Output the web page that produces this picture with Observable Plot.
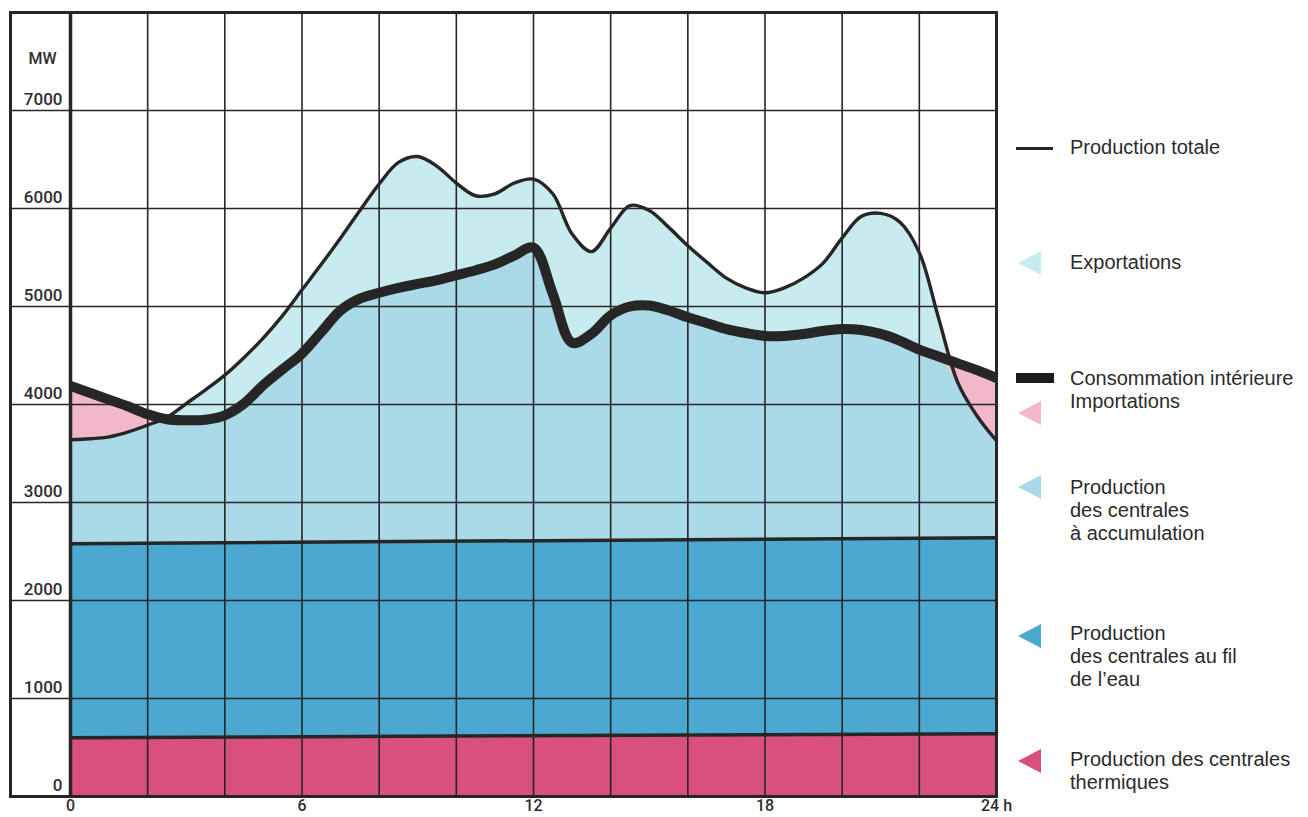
<!DOCTYPE html>
<html>
<head>
<meta charset="utf-8">
<script src="https://cdn.jsdelivr.net/npm/d3@7"></script>
<script src="https://cdn.jsdelivr.net/npm/@observablehq/plot@0.6"></script>
<style>
  html, body { margin: 0; padding: 0; background: #ffffff; }
  #wrap { position: relative; width: 1308px; height: 817px; overflow: hidden; background: #fff; }
  #chart { position: absolute; left: 0; top: 0; }
  .lg { position: absolute; font-family: "Liberation Sans", Arial, sans-serif; font-size: 20px; color: #2b2b2b; line-height: 23px; white-space: nowrap; }
  .sym { position: absolute; }
</style>
</head>
<body>
<div id="wrap"><div id="chart"></div></div>
<script>
// ---- data ----
const hours = [0,0.5,1,1.5,2,2.5,3,3.5,4,4.5,5,5.5,6,6.5,7,7.5,8,8.5,9,9.5,10,10.5,11,11.5,12,12.5,13,13.5,14,14.5,15,15.5,16,16.5,17,17.5,18,18.5,19,19.5,20,20.5,21,21.5,22,22.5,23,23.5,24];
const productionTotale = [3640,3650,3670,3720,3790,3870,4010,4150,4300,4480,4680,4910,5170,5430,5700,5980,6250,6470,6530,6430,6260,6130,6150,6260,6300,6150,5740,5560,5800,6030,5980,5810,5620,5450,5290,5190,5140,5190,5290,5440,5700,5920,5950,5860,5550,4880,4220,3880,3630];
const consommationInterieure = [4190,4120,4050,3980,3900,3850,3840,3845,3890,4010,4200,4360,4520,4740,4960,5080,5140,5190,5230,5270,5320,5370,5430,5520,5600,5130,4630,4720,4910,5000,5010,4960,4890,4830,4770,4730,4700,4700,4720,4750,4770,4760,4720,4650,4560,4490,4420,4350,4270];
const baseHours = [0, 24];
const thermiques = [600, 640];          // top of thermal production
const filDeLEau = [2580, 2640];         // top of run-of-river production
const yTicks = [0,1000,2000,3000,4000,5000,6000,7000];
const gridHours = [0,2,4,6,8,10,12,14,16,18,20,22,24];
const xTicks = [0,6,12,18,24];

const cExport = "#c8ebef", cImport = "#f3b7ca", cAccum = "#aad9e7", cRiver = "#4aa8d1", cTherm = "#d94f7e", ink = "#262626";

const rows = hours.map((h, i) => ({h, p: productionTotale[i], c: consommationInterieure[i], m: Math.min(productionTotale[i], consommationInterieure[i])}));
const base = baseHours.map((h, i) => ({h, t: thermiques[i], r: filDeLEau[i]}));
const curve = "catmull-rom";

const chart = Plot.plot({
  width: 1308, height: 817,
  marginLeft: 10, marginRight: 312, marginTop: 12, marginBottom: 21,
  x: {domain: [0, 24], range: [70, 996], ticks: xTicks, tickSize: 0, tickPadding: 3, tickFormat: d => d === 24 ? "24 h" : String(d), label: null},
  y: {domain: [0, 8000], axis: null},
  style: {fontFamily: "Roboto, 'Liberation Sans', sans-serif", fontSize: "16px", fontWeight: 500, color: "#2e2e2e", background: "transparent"},
  marks: [
    Plot.areaY(rows, {x: "h", y: "p", fill: cExport, curve}),
    Plot.areaY(rows, {x: "h", y: "c", fill: cImport, curve}),
    Plot.areaY(rows, {x: "h", y: "m", fill: cAccum, curve}),
    Plot.areaY(base, {x: "h", y: "r", fill: cRiver}),
    Plot.areaY(base, {x: "h", y: "t", fill: cTherm}),
    Plot.ruleX(gridHours, {stroke: ink, strokeWidth: 1.6}),
    Plot.ruleY(yTicks.slice(1), {stroke: ink, strokeWidth: 1.6}),
    Plot.line(base, {x: "h", y: "r", stroke: ink, strokeWidth: 3.5}),
    Plot.line(base, {x: "h", y: "t", stroke: ink, strokeWidth: 3.5}),
    Plot.line(rows, {x: "h", y: "p", stroke: ink, strokeWidth: 3.4, curve}),
    Plot.line(rows, {x: "h", y: "c", stroke: ink, strokeWidth: 10, curve, strokeLinecap: "butt"}),
    Plot.ruleX([0], {stroke: ink, strokeWidth: 3.5}),
    Plot.frame({stroke: ink, strokeWidth: 3}),
    Plot.text(yTicks, {y: d => d, text: d => String(d), frameAnchor: "left", dx: 52, dy: -11, textAnchor: "end", fontSize: 17, fill: "#2e2e2e"}),
    Plot.text(["MW"], {frameAnchor: "top-left", dx: 32, dy: 40, textAnchor: "middle", fontSize: 16, fill: "#2e2e2e"})
  ]
});
document.getElementById("chart").appendChild(chart);

// ---- legend ----
const legend = [
  {label: ["Production totale"], top: 136, sym: "line"},
  {label: ["Exportations"], top: 251, sym: "tri", color: cExport, ty: 263},
  {label: ["Consommation intérieure", "Importations"], top: 367, sym: "bar"},
  {label: [], top: 0, sym: "tri", color: cImport, ty: 413},
  {label: ["Production", "des centrales", "à accumulation"], top: 476, sym: "tri", color: cAccum, ty: 487},
  {label: ["Production", "des centrales au fil", "de l’eau"], top: 622, sym: "tri", color: cRiver, ty: 636},
  {label: ["Production des centrales", "thermiques"], top: 748, sym: "tri", color: cTherm, ty: 761}
];
const wrap = document.getElementById("wrap");
for (const it of legend) {
  if (it.label.length) {
    const d = document.createElement("div");
    d.className = "lg";
    d.style.left = "1070px";
    d.style.top = it.top + "px";
    d.innerHTML = it.label.join("<br>");
    wrap.appendChild(d);
  }
  const s = document.createElement("div");
  s.className = "sym";
  if (it.sym === "line") {
    s.style.cssText = `left:1016px;top:${it.top + 11}px;width:37px;height:3px;background:${ink}`;
  } else if (it.sym === "bar") {
    s.style.cssText = `left:1016px;top:${it.top + 6}px;width:38px;height:10px;background:#1c1c1c`;
  } else {
    s.style.cssText = `left:1018px;top:${it.ty - 12}px;width:0;height:0;border-top:12px solid transparent;border-bottom:12px solid transparent;border-right:23px solid ${it.color}`;
  }
  wrap.appendChild(s);
}
</script>
</body>
</html>
